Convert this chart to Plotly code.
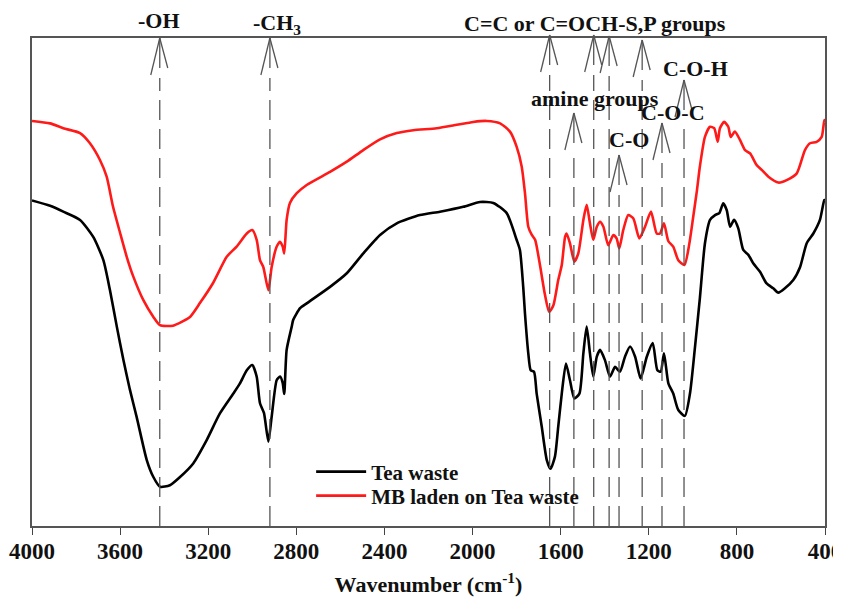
import plotly.graph_objects as go

# ---------------- data ----------------
tea_wn = [4000, 3918, 3858, 3782, 3722, 3676, 3646, 3615, 3585, 3555, 3525, 3479, 3449, 3419,
          3374, 3328, 3268, 3207, 3147, 3086, 3056, 3025, 3000, 2980, 2965, 2947, 2927, 2912,
          2889, 2874, 2862, 2855, 2844, 2821, 2814, 2783, 2753, 2647, 2571, 2496, 2420, 2344,
          2239, 2148, 2042, 1966, 1906, 1845, 1800, 1785, 1770, 1762, 1747, 1736, 1721, 1709,
          1686, 1663, 1646, 1626, 1611, 1595, 1576, 1558, 1538, 1515, 1497, 1482, 1467, 1452,
          1436, 1421, 1399, 1376, 1353, 1331, 1308, 1285, 1262, 1237, 1209, 1182, 1161, 1146,
          1131, 1111, 1089, 1066, 1036, 1013, 990, 968, 945, 922, 899, 880, 862, 846, 831, 813,
          794, 771, 748, 725, 695, 665, 635, 612, 582, 544, 513, 483, 453, 423, 403, 400]
tea_t = [66.5, 65.4, 64.2, 62.5, 59.0, 54.2, 48.0, 40.5, 33.6, 27.4, 21.9, 13.0, 9.5, 7.5,
         7.8, 9.5, 12.3, 17.1, 22.6, 26.7, 28.8, 31.5, 32.6, 30.2, 24.7, 22.7, 16.8, 21.9,
         29.5, 30.2, 28.9, 26.6, 35.7, 40.5, 41.9, 44.3, 45.3, 48.7, 51.5, 55.6, 59.4, 61.8,
         63.5, 64.2, 65.2, 66.2, 66.0, 63.9, 58.4, 56.3, 48.7, 43.2, 35.0, 31.5, 31.2, 26.7,
         19.9, 13.0, 11.2, 13.7, 19.9, 26.7, 32.9, 29.5, 25.7, 26.7, 35.0, 40.5, 35.0, 30.2,
         34.3, 35.7, 33.6, 30.2, 32.2, 31.2, 34.3, 36.4, 34.3, 29.8, 34.3, 37.1, 31.5, 31.2,
         35.0, 28.8, 26.7, 23.3, 22.1, 26.7, 36.4, 46.4, 57.7, 62.5, 63.5, 63.9, 65.9, 64.5,
         61.1, 62.5, 60.8, 56.3, 55.3, 53.5, 51.8, 49.4, 48.4, 47.5, 48.4, 50.1, 52.8, 57.7,
         59.7, 62.5, 66.6, 66.6]

mb_wn = [4000, 3918, 3858, 3782, 3737, 3691, 3661, 3632, 3600, 3570, 3540, 3495, 3449, 3419,
         3360, 3283, 3237, 3178, 3116, 3071, 3025, 3000, 2980, 2965, 2950, 2927, 2912, 2889,
         2874, 2862, 2855, 2844, 2829, 2798, 2753, 2647, 2571, 2496, 2420, 2344, 2269, 2163,
         2072, 1997, 1936, 1875, 1830, 1800, 1777, 1762, 1747, 1731, 1716, 1694, 1671, 1652,
         1633, 1611, 1595, 1580, 1573, 1558, 1538, 1520, 1497, 1482, 1467, 1452, 1436, 1421,
         1406, 1384, 1361, 1346, 1334, 1316, 1293, 1270, 1243, 1217, 1190, 1164, 1149, 1131,
         1111, 1089, 1066, 1038, 1017, 998, 981, 968, 945, 922, 903, 887, 877, 858, 839, 828,
         809, 786, 763, 740, 710, 687, 657, 612, 574, 528, 491, 468, 438, 415, 403, 400]
mb_t = [82.9, 82.4, 81.4, 80.4, 78.3, 74.8, 71.4, 65.2, 59.8, 54.9, 50.8, 46.0, 42.5, 40.8,
        40.7, 42.5, 45.4, 49.5, 54.9, 57.0, 59.7, 60.4, 58.4, 54.2, 52.8, 48.0, 52.8, 57.0,
        58.0, 57.0, 55.6, 62.5, 66.0, 68.0, 69.7, 72.4, 74.5, 76.9, 79.1, 80.4, 81.0, 81.4,
        82.1, 82.7, 82.9, 82.4, 80.7, 77.6, 73.5, 68.0, 61.1, 59.4, 58.4, 53.2, 47.0, 43.5,
        44.9, 50.1, 53.2, 59.0, 59.7, 57.7, 53.9, 55.6, 62.5, 65.6, 61.8, 58.4, 61.1, 62.1,
        61.1, 57.3, 59.4, 58.7, 56.6, 60.4, 63.5, 62.8, 58.7, 61.1, 64.2, 59.7, 59.7, 61.8,
        58.1, 57.0, 54.2, 53.2, 57.3, 63.2, 68.7, 73.5, 79.6, 81.7, 81.4, 78.6, 81.4, 82.7,
        81.7, 79.6, 80.7, 79.0, 76.9, 76.2, 73.8, 72.8, 71.4, 70.2, 70.7, 72.1, 76.9, 78.3,
        78.6, 79.6, 83.1, 82.7]

x_ticks = [4000, 3600, 3200, 2800, 2400, 2000, 1600, 1200, 800, 400]

# band positions (cm-1)
band_wn = [3420, 2920, 1650, 1540, 1450, 1380, 1335, 1230, 1140, 1040]

# ---------------- layout helpers ----------------
FONT = "Liberation Serif"
PAGE_OFF = 8                      # default page margin of the html body
W, H = 841 - PAGE_OFF, 605 - PAGE_OFF
L, R, T, B = 32 - PAGE_OFF, 16, 38 - PAGE_OFF, 79
PH = H - T - B
BOTTOM_ROW = 526                  # image row of the x axis


def py(p):
    """image pixel row -> paper y"""
    return (BOTTOM_ROW - p) / PH


# arrow apex rows (image px) for each band, and label spec (text, cm-1 position, row, anchor)
apex_rows = [38, 38, 35, 113, 35, 36, 155, 40, 123, 80]
labels = [
    ("-OH", 3425, 21, "center"),
    ("-CH<sub>3</sub>", 2890, 24, "center"),
    ("C=C or C=OCH-S,P groups", 1444, 24, "center"),
    ("amine groups", 1446, 98, "center"),
    ("C-O", 1290, 140, "center"),
    ("C-O-C", 1090, 113, "center"),
    ("C-O-H", 986, 68, "center"),
]

fig = go.Figure()
fig.add_trace(go.Scatter(x=tea_wn, y=tea_t, mode="lines", name="Tea waste", legend="legend",
                         line=dict(color="#000000", width=2.6, shape="spline", smoothing=0.6)))
fig.add_trace(go.Scatter(x=mb_wn, y=mb_t, mode="lines", name="MB laden on Tea waste",
                         legend="legend2",
                         line=dict(color="#ff1a1a", width=2.6, shape="spline", smoothing=0.6)))

shapes = []
gray = "#555555"
for wn, ar in zip(band_wn, apex_rows):
    # dashed guide line
    shapes.append(dict(type="line", xref="x", yref="paper", x0=wn, x1=wn,
                       y0=0, y1=py(ar + 40), line=dict(color=gray, width=1.3, dash="20px,9px")))
    # open arrow: two legs and a stem
    for dx, dy in [(-9, -37), (8, -30), (0, -30)]:
        shapes.append(dict(type="line", xref="x", yref="paper",
                           xsizemode="pixel", xanchor=wn, x0=0, x1=dx,
                           ysizemode="pixel", yanchor=py(ar), y0=0, y1=dy,
                           line=dict(color=gray, width=1.3)))

annotations = []
for txt, xw, row, anchor in labels:
    annotations.append(dict(text=txt, x=xw, y=py(row), xref="x", yref="paper",
                            xanchor=anchor, yanchor="middle", showarrow=False,
                            font=dict(family=FONT, size=22, color="#111111", weight="bold")))

legend_font = dict(family=FONT, size=21, color="#111111", weight="bold")
fig.update_layout(
    width=W, height=H,
    margin=dict(l=L, r=R, t=T, b=B, autoexpand=False),
    paper_bgcolor="white", plot_bgcolor="white",
    shapes=shapes, annotations=annotations,
    showlegend=True,
    legend=dict(x=0.352, y=py(472), xanchor="left", yanchor="middle", itemwidth=50,
                bgcolor="rgba(0,0,0,0)", font=legend_font),
    legend2=dict(x=0.352, y=py(496), xanchor="left", yanchor="middle", itemwidth=50,
                 bgcolor="rgba(0,0,0,0)", font=legend_font),
    xaxis=dict(range=[4000, 400], tickvals=x_ticks, ticks="outside", ticklen=7,
               tickwidth=1.3, tickcolor="#444444", automargin=False,
               ticklabelstandoff=-3, ticklabeloverflow="allow",
               showline=True, linecolor="#555555", linewidth=1.6, mirror=True,
               showgrid=False, zeroline=False,
               tickfont=dict(family=FONT, size=23, color="#111111", weight="bold"),
               title=dict(text="Wavenumber (cm<sup>-1</sup>)", standoff=13,
                          font=dict(family=FONT, size=22, color="#111111", weight="bold"))),
    yaxis=dict(range=[-0.6, 100], showticklabels=False, ticks="", automargin=False,
               showline=True, linecolor="#555555", linewidth=1.6, mirror=True,
               showgrid=False, zeroline=False),
)

fig.write_html("out.html")
